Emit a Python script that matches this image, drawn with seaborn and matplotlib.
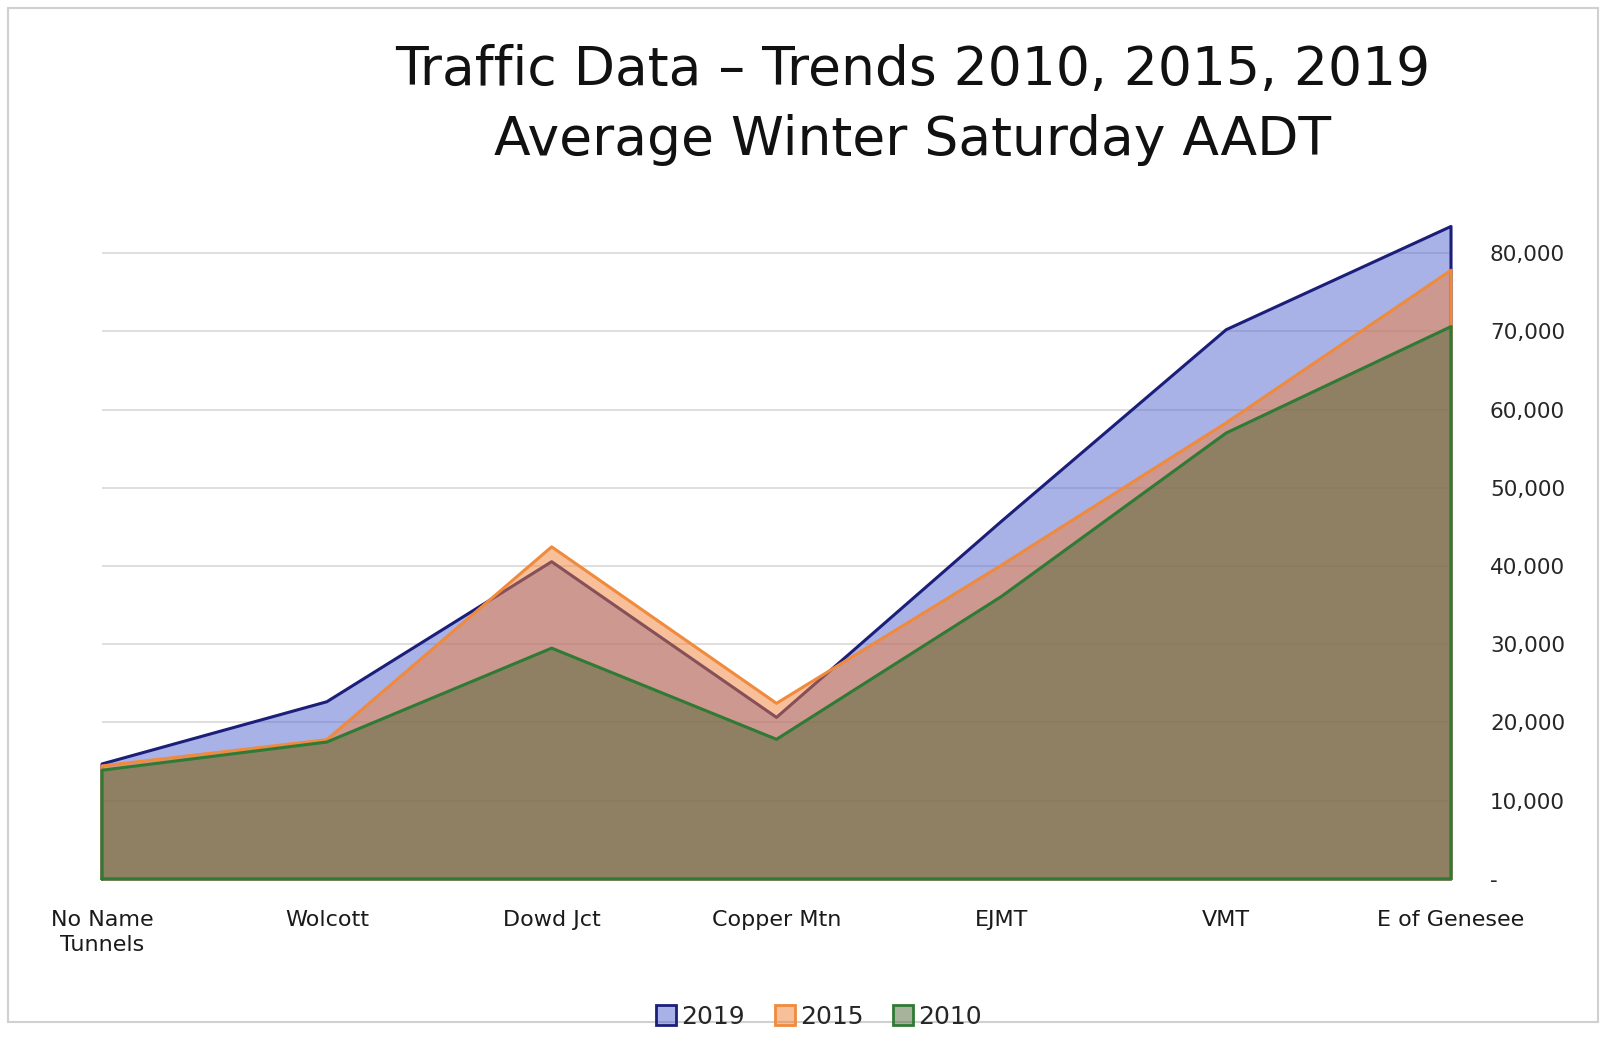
import matplotlib
matplotlib.use("Agg")
import matplotlib.pyplot as plt
import seaborn as sns
import pandas as pd
import numpy as np
from matplotlib.patches import Patch, Rectangle

categories = ["No Name\nTunnels", "Wolcott", "Dowd Jct", "Copper Mtn", "EJMT", "VMT", "E of Genesee"]
aadt_2019 = [14700, 22650, 40550, 20650, 45700, 70200, 83400]
aadt_2015 = [14450, 17800, 42450, 22450, 40100, 58300, 77800]
aadt_2010 = [13900, 17500, 29500, 17850, 36100, 57000, 70600]
years = ["2019", "2015", "2010"]
y_ticks = [0, 10000, 20000, 30000, 40000, 50000, 60000, 70000, 80000]

df = pd.DataFrame({
    "site": categories * 3,
    "pos": list(range(len(categories))) * 3,
    "year": sum([[y] * len(categories) for y in years], []),
    "aadt": aadt_2019 + aadt_2015 + aadt_2010,
})

sns.set_theme(style="white")
plt.rcParams["font.family"] = ["DejaVu Sans"]

fill_colors = {"2019": (0.33, 0.40, 0.82, 0.50),
               "2015": (0.95, 0.50, 0.22, 0.50),
               "2010": (0.32, 0.41, 0.22, 0.50)}
edge_colors = {"2019": "#1c1f7a", "2015": "#f08a3c", "2010": "#2f7a34"}

fig = plt.figure(figsize=(16.06, 10.59), dpi=100)
ax = fig.add_axes([0.0635, 0.170, 0.840, 0.628])

for yr in years:
    sub = df[df["year"] == yr]
    ax.fill_between(sub["pos"], 0, sub["aadt"], facecolor=fill_colors[yr],
                    edgecolor="none", zorder=2)
    xs = [0] + sub["pos"].tolist() + [len(categories) - 1, 0]
    ys = [0] + sub["aadt"].tolist() + [0, 0]
    outline = pd.DataFrame({"x": xs, "y": ys})
    sns.lineplot(data=outline, x="x", y="y", sort=False, estimator=None,
                 color=edge_colors[yr], linewidth=2.2, ax=ax, zorder=2,
                 clip_on=False)

ax.set_xlim(0, len(categories) - 1)
ax.set_ylim(0, 85000)
ax.set_yticks(y_ticks)
ax.set_yticklabels(["-" if v == 0 else f"{v:,}" for v in y_ticks])
ax.yaxis.tick_right()
ax.tick_params(axis="y", length=0, pad=28, labelsize=15.5, labelcolor="#262626")
for v in y_ticks[1:]:
    ax.axhline(v, color="#d9d9d9", linewidth=1.2, zorder=1)

ax.set_xticks(range(len(categories)))
ax.set_xticklabels(categories, fontsize=16, color="#1a1a1a", linespacing=1.35)
ax.tick_params(axis="x", length=0, pad=22)
ax.set_xlabel("")
ax.set_ylabel("")
for s in ax.spines.values():
    s.set_visible(False)

fig.text(0.568, 0.934, "Traffic Data \u2013 Trends 2010, 2015, 2019",
         ha="center", va="center", fontsize=38.5, color="#111111")
fig.text(0.568, 0.868, "Average Winter Saturday AADT",
         ha="center", va="center", fontsize=38.5, color="#111111")

handles = [Patch(facecolor=fill_colors[y], edgecolor=edge_colors[y], linewidth=2) for y in years]
fig.legend(handles, years, loc="center", bbox_to_anchor=(0.51, 0.040), ncol=3,
           frameon=False, fontsize=18, handlelength=0.8, handleheight=0.8,
           handletextpad=0.2, columnspacing=1.2)

fig.patches.append(Rectangle((0.005, 0.035), 0.99, 0.957, transform=fig.transFigure,
                             fill=False, edgecolor="#d0d0d0", linewidth=1.5))

fig.savefig("out.png", dpi=100, facecolor="white")
